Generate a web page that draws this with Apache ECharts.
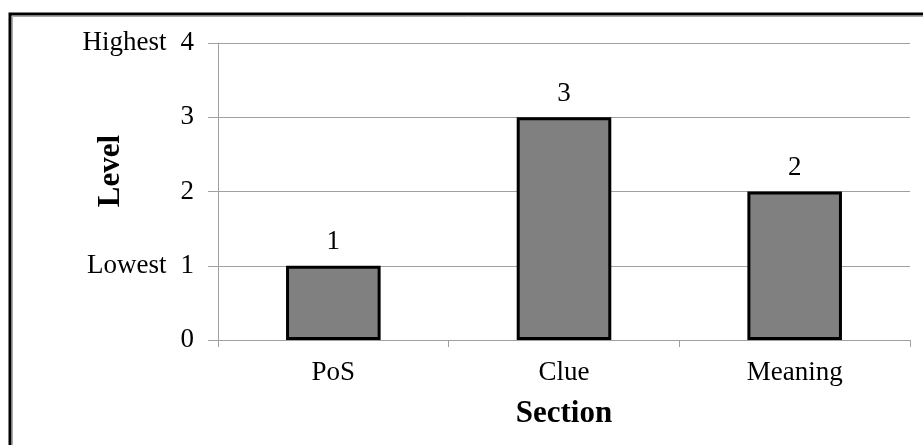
<!DOCTYPE html>
<html>
<head>
<meta charset="utf-8">
<script src="https://cdn.jsdelivr.net/npm/echarts@6/dist/echarts.min.js"></script>
<style>
html,body{margin:0;padding:0;background:#fff;}
#c{width:923px;height:445px;}
</style>
</head>
<body>
<div id="c"></div>
<script>
const categories = ['PoS', 'Clue', 'Meaning'];
const levels = [1, 3, 2];
const yTicks = [0, 1, 2, 3, 4];
const yTickWords = {1: 'Lowest', 4: 'Highest'};
const xTitle = 'Section';
const yTitle = 'Level';

const FONT = '"Liberation Serif", "Times New Roman", serif';
const FS = 27;
const chart = echarts.init(document.getElementById('c'), null, {renderer: 'canvas'});
chart.setOption({
  animation: false,
  backgroundColor: '#fff',
  grid: {left: 218, right: 13, top: 43, bottom: 105, containLabel: false},
  xAxis: {
    type: 'category',
    data: categories,
    name: xTitle,
    nameLocation: 'middle',
    nameGap: 58,
    nameTextStyle: {fontFamily: FONT, fontSize: 31, fontWeight: 'bold', color: '#000'},
    axisLine: {lineStyle: {color: '#a0a0a0', width: 1}},
    axisTick: {show: true, length: 7, lineStyle: {color: '#a0a0a0'}},
    axisLabel: {fontFamily: FONT, fontSize: FS, color: '#000', margin: 19}
  },
  yAxis: {
    type: 'value',
    min: 0, max: 4, interval: 1,
    axisLine: {show: true, lineStyle: {color: '#a0a0a0', width: 1}},
    axisTick: {show: true, length: 10, lineStyle: {color: '#a0a0a0'}},
    splitLine: {show: true, lineStyle: {color: '#a0a0a0', width: 1}},
    axisLabel: {
      fontFamily: FONT, fontSize: FS, color: '#000', margin: 24,
      formatter: function (v) {
        return yTickWords[v] ? '{w|' + yTickWords[v] + '}{v|' + v + '}' : '{v|' + v + '}';
      },
      rich: {
        w: {fontFamily: FONT, fontSize: FS, color: '#000', padding: [0, 14, 0, 0]},
        v: {fontFamily: FONT, fontSize: FS, color: '#000'}
      }
    }
  },
  series: [{
    type: 'bar',
    data: levels,
    barWidth: '41%',
    itemStyle: {color: '#808080', borderColor: '#000', borderWidth: 3},
    label: {show: true, position: 'top', distance: 10, fontFamily: FONT, fontSize: FS, color: '#000'}
  }],
  graphic: [
    {type: 'rect', shape: {x: 10, y: 14, width: 2000, height: 2000}, style: {fill: 'none', stroke: '#000', lineWidth: 3}, z: 100},
    {type: 'rect', shape: {x: 12.5, y: 16.5, width: 2000, height: 2000}, style: {fill: 'none', stroke: '#aaa', lineWidth: 1}, z: 100},
    {type: 'text', x: 111, y: 171, rotation: Math.PI / 2,
     style: {text: yTitle, font: 'bold 31px ' + FONT, fill: '#000', textAlign: 'center', textVerticalAlign: 'middle'}, z: 100}
  ]
});
</script>
</body>
</html>
